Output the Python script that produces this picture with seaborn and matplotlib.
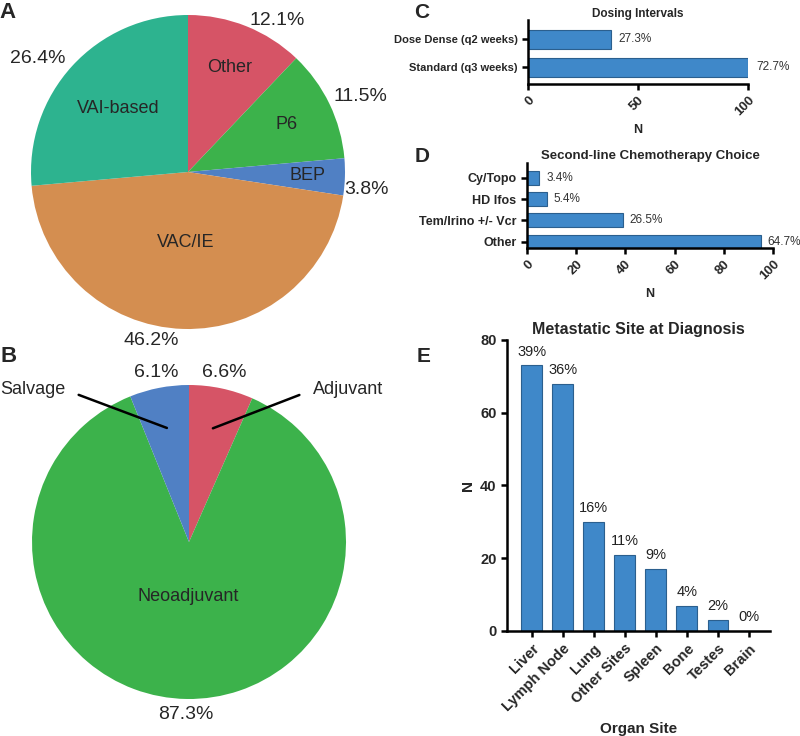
import numpy as np
import matplotlib
matplotlib.use("Agg")
import matplotlib.pyplot as plt
import seaborn as sns

# Panel A - first-line regimen (percent of patients)
regimen_labels = ["Other", "P6", "BEP", "VAC/IE", "VAI-based"]
regimen_pct = [12.1, 11.5, 3.8, 46.2, 26.4]

# Panel B - timing of chemotherapy
timing_labels = ["Adjuvant", "Neoadjuvant", "Salvage"]
timing_pct = [6.6, 87.3, 6.1]

# Panel C - dosing intervals
dosing_labels = ["Dose Dense (q2 weeks)", "Standard (q3 weeks)"]
dosing_n = [37.5, 100]
dosing_pct = ["27.3%", "72.7%"]

# Panel D - second-line chemotherapy
second_labels = ["Cy/Topo", "HD Ifos", "Tem/Irino +/- Vcr", "Other"]
second_n = [5, 8, 39, 95]
second_pct = ["3.4%", "5.4%", "26.5%", "64.7%"]

# Panel E - metastatic site at diagnosis
site_labels = ["Liver", "Lymph Node", "Lung", "Other Sites", "Spleen", "Bone", "Testes", "Brain"]
site_n = [73, 68, 30, 21, 17, 7, 3, 0]
site_pct = ["39%", "36%", "16%", "11%", "9%", "4%", "2%", "0%"]

sns.set_style("ticks")
plt.rcParams["font.family"] = ["Liberation Sans", "DejaVu Sans"]

BAR = "#3f88c9"
BAR_EDGE = "#2b5f8e"
PIE_A_COLORS = ["#d65466", "#3cb24b", "#5080c4", "#d48e50", "#2db38f"]
PIE_B_COLORS = ["#d65466", "#3cb24b", "#5080c4"]

W, H = 800, 736
fig = plt.figure(figsize=(W / 100, H / 100), dpi=100)


def px_axes(left, top, width, height):
    return fig.add_axes([left / W, 1 - (top + height) / H, width / W, height / H])


def mid_angle(w):
    return (w.theta1 + w.theta2) / 2


def polar(r, deg):
    a = np.deg2rad(deg)
    return r * np.cos(a), r * np.sin(a)


def prism_axes(ax):
    sns.despine(ax=ax)
    for s in ["left", "bottom"]:
        ax.spines[s].set_linewidth(1.8)
        ax.spines[s].set_color("black")
    ax.tick_params(width=1.8, length=4, color="black")
    for lab in ax.get_xticklabels() + ax.get_yticklabels():
        lab.set_fontweight("bold")


# ---------- A ----------
axA = px_axes(31, 15, 314, 314)
wedges, texts, autotexts = axA.pie(
    regimen_pct, labels=regimen_labels, colors=PIE_A_COLORS,
    startangle=90, counterclock=False, autopct="%.1f%%",
    pctdistance=1.15, labeldistance=0.65,
    wedgeprops=dict(linewidth=0), textprops=dict(fontsize=14))
label_r = [0.72, 0.7, 0.76, 0.45, 0.6]
pct_r = [1.12, 1.2, 1.14, 1.1, 1.2]
pct_shift = [-8.6, -2, -3.7, -10.6, 5.5]
for w, t, at, r, pr, sh in zip(wedges, texts, autotexts, label_r, pct_r, pct_shift):
    a = mid_angle(w)
    t.set_position(polar(r, a))
    t.set_ha("center")
    t.set_va("center")
    t.set_fontsize(13)
    at.set_position(polar(pr, a + sh))
axA.set_xlim(-1, 1)
axA.set_ylim(-1, 1)
fig.text(8 / W, 1 - 13 / H, "A", fontsize=16, fontweight="bold", va="center", ha="center")

# ---------- B ----------
axB = px_axes(32, 385, 314, 314)
wedges, texts, autotexts = axB.pie(
    timing_pct, labels=timing_labels, colors=PIE_B_COLORS,
    startangle=90, counterclock=False, autopct="%.1f%%",
    pctdistance=1.1, labeldistance=0.35,
    wedgeprops=dict(linewidth=0), textprops=dict(fontsize=14))
for w, t in zip(wedges, texts):
    a = mid_angle(w)
    if t.get_text() == "Neoadjuvant":
        t.set_position(polar(0.35, a))
        t.set_ha("center")
        t.set_fontsize(13)
        continue
    t.set_visible(False)
    right = np.cos(np.deg2rad(a)) > 0
    axB.annotate(
        t.get_text(), xy=polar(0.74, a),
        xytext=(0.79 if right else -0.79, 0.97), fontsize=13,
        ha="left" if right else "right", va="center",
        arrowprops=dict(arrowstyle="-", lw=1.8, color="black",
                        relpos=(0, 0.5) if right else (1, 0.5),
                        shrinkA=8, shrinkB=0))
axB.set_xlim(-1, 1)
axB.set_ylim(-1, 1)
fig.text(9 / W, 1 - 357 / H, "B", fontsize=16, fontweight="bold", va="center", ha="center")

# ---------- C ----------
axC = px_axes(528, 20, 220, 64)
sns.barplot(x=dosing_n, y=dosing_labels, orient="h", color=BAR, saturation=1,
            width=0.68, edgecolor=BAR_EDGE, linewidth=0.8, ax=axC)
axC.bar_label(axC.containers[0], labels=dosing_pct, padding=6, fontsize=8.5, color="#333333")
axC.set_xlim(0, 100)
axC.set_xticks([0, 50, 100])
axC.set_ylim(1.6, -0.68)
axC.set_title("Dosing Intervals", fontsize=8.5, fontweight="bold", pad=1)
axC.set_xlabel("N", fontsize=9, fontweight="bold")
axC.tick_params(axis="y", labelsize=8)
axC.tick_params(axis="x", labelsize=9.5)
prism_axes(axC)
plt.setp(axC.get_xticklabels(), rotation=45, ha="right", rotation_mode="anchor")
fig.text(422 / W, 1 - 12 / H, "C", fontsize=15, fontweight="bold", va="center", ha="center")

# ---------- D ----------
axD = px_axes(527, 163, 246, 85)
sns.barplot(x=second_n, y=second_labels, orient="h", color=BAR, saturation=1,
            width=0.65, edgecolor=BAR_EDGE, linewidth=0.8, ax=axD)
axD.bar_label(axD.containers[0], labels=second_pct, padding=5, fontsize=8.5, color="#333333")
axD.set_xlim(0, 100)
axD.set_xticks(range(0, 101, 20))
axD.set_ylim(3.3, -0.7)
axD.set_title("Second-line Chemotherapy Choice", fontsize=9.5, fontweight="bold", pad=3)
axD.set_xlabel("N", fontsize=9, fontweight="bold")
axD.tick_params(axis="y", labelsize=9)
axD.tick_params(axis="x", labelsize=9.5)
prism_axes(axD)
plt.setp(axD.get_xticklabels(), rotation=45, ha="right", rotation_mode="anchor")
fig.text(422 / W, 1 - 157 / H, "D", fontsize=15, fontweight="bold", va="center", ha="center")

# ---------- E ----------
axE = px_axes(507, 340, 263, 291)
sns.barplot(x=site_labels, y=site_n, color=BAR, saturation=1,
            width=0.67, edgecolor=BAR_EDGE, linewidth=0.8, ax=axE)
axE.bar_label(axE.containers[0], labels=site_pct, padding=5, fontsize=10.5, color="#222222")
axE.set_ylim(0, 80)
axE.set_yticks(range(0, 81, 20))
axE.set_xlim(-0.8, 7.68)
axE.set_title("Metastatic Site at Diagnosis", fontsize=11.5, fontweight="bold", pad=4)
axE.set_xlabel("Organ Site", fontsize=11, fontweight="bold", labelpad=6)
axE.set_ylabel("N", fontsize=11, fontweight="bold")
axE.tick_params(axis="both", labelsize=10.5)
prism_axes(axE)
plt.setp(axE.get_xticklabels(), rotation=45, ha="right", rotation_mode="anchor")
fig.text(424 / W, 1 - 357 / H, "E", fontsize=15, fontweight="bold", va="center", ha="center")

fig.savefig("out.png", dpi=100)
